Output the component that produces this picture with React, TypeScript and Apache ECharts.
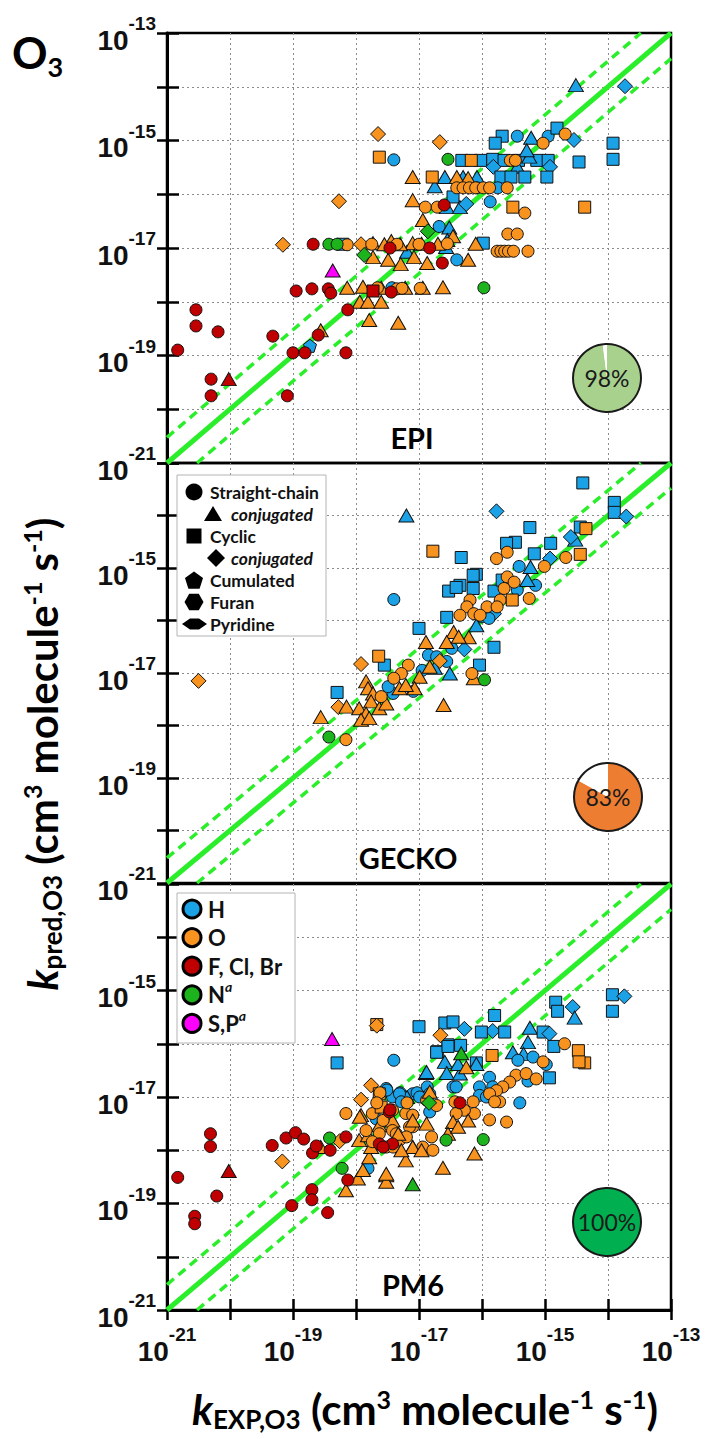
import React, { useEffect, useRef } from "react";
import * as echarts from "echarts";

// shape codes
const C = 0, T = 1, S = 2, D = 3, P = 4;

const AXIS_MIN = -21;
const AXIS_MAX = -13;
const bandFactor = 3;

const panelNames = ["EPI", "GECKO", "PM6"];
const pieShares = [98, 83, 100];
const pieColors = ["#a9d18e", "#ed7d31", "#00b050"];

const elementNames = ["H", "O", "F, Cl, Br", "N", "S,P"];
const elementColors = ["#1ba1e6", "#f7931e", "#c00000", "#1db31d", "#ff00ff"];
const shapeNames = ["Straight-chain", "conjugated", "Cyclic", "conjugated", "Cumulated", "Furan", "Pyridine"];

// ---- EPI (log10 kEXP, log10 kpred, shape) ----
const epiH = [
  [-18.73, -18.82, P], [-18.21, -16.93, S], [-17.4, -15.36, C], [-17.19, -17.07, T], [-17.43, -17.74, C],
  [-16.57, -16.98, T], [-16.4, -17.22, C], [-14.51, -13.97, T], [-13.73, -13.99, D], [-15.68, -14.92, S],
  [-15.79, -15.05, S], [-15.44, -14.92, C], [-15.22, -14.95, T], [-14.95, -14.92, C], [-14.81, -14.77, S],
  [-14.54, -14.99, D], [-13.92, -15.05, S], [-13.92, -15.35, S], [-14.46, -15.4, S], [-16.32, -15.37, S],
  [-16.02, -15.37, S], [-15.83, -15.35, S], [-15.65, -15.37, S], [-15.42, -15.37, S], [-15.13, -15.37, S],
  [-14.95, -15.37, S], [-15.25, -15.3, T], [-15.82, -15.49, D], [-14.92, -15.49, D], [-15.29, -15.18, T],
  [-15.44, -15.49, T], [-15.7, -15.68, S], [-15.54, -15.68, S], [-15.32, -15.68, S], [-14.97, -15.68, S],
  [-16.59, -15.68, T], [-16.08, -15.68, T], [-16.75, -15.85, T], [-16.3, -15.68, T], [-16.08, -15.88, C],
  [-15.75, -15.88, C], [-16.46, -16.05, S], [-15.87, -16.14, C], [-16.56, -16.24, T], [-16.35, -16.24, T],
  [-16.25, -16.18, D], [-16.68, -16.6, C], [-16.52, -16.62, T], [-15.98, -16.91, S], [-16.55, -16.85, T],
];
const epiO = [
  [-19.16, -16.94, D], [-18.27, -16.13, D], [-17.65, -14.88, D], [-16.67, -15.03, D], [-17.92, -16.93, D],
  [-17.63, -15.31, S], [-16.79, -15.68, S], [-15.51, -16.24, S], [-14.37, -16.24, S], [-16.17, -15.37, S],
  [-18.56, -18.53, T], [-18.14, -17.74, T], [-17.89, -17.72, T], [-17.6, -17.74, T], [-17.22, -17.74, T],
  [-16.94, -17.74, T], [-16.62, -17.73, T], [-17.94, -18.0, T], [-17.81, -18.0, T], [-17.6, -18.0, T],
  [-17.79, -18.34, T], [-17.33, -18.39, T], [-17.73, -16.91, T], [-17.44, -16.87, T], [-17.1, -16.91, T],
  [-17.3, -16.93, T], [-17.55, -16.93, T], [-16.96, -16.92, T], [-16.7, -16.92, T], [-16.1, -16.92, T],
  [-17.73, -17.17, T], [-17.49, -17.22, T], [-17.29, -17.3, T], [-17.08, -17.17, T], [-16.87, -17.28, T],
  [-16.22, -17.22, T], [-16.46, -16.78, T], [-16.94, -16.48, T], [-17.1, -16.11, T], [-17.1, -15.68, T],
  [-16.4, -15.68, T], [-16.22, -15.7, T],
  [-18.14, -16.94, C], [-17.75, -16.93, C], [-17.35, -16.93, C], [-17.0, -16.93, C], [-16.55, -16.92, C],
  [-17.66, -17.74, C], [-17.35, -17.76, C], [-17.27, -17.75, C], [-16.98, -17.75, C], [-16.4, -15.88, C],
  [-16.3, -15.88, C], [-16.2, -15.88, C], [-16.1, -15.88, C], [-15.98, -15.88, C], [-15.88, -15.88, C],
  [-15.6, -15.88, C], [-16.9, -16.24, C], [-16.71, -16.24, C], [-15.32, -16.35, C], [-15.59, -16.74, C],
  [-15.44, -16.74, C], [-15.76, -17.06, C], [-15.7, -17.06, C], [-15.64, -17.06, C], [-15.58, -17.06, C],
  [-15.5, -17.06, C], [-15.27, -17.06, C], [-14.68, -14.88, C], [-15.03, -15.05, C], [-15.55, -15.37, C],
  [-15.47, -15.37, C],
];
const epiHal = [
  [-20.83, -18.9, C], [-20.54, -18.15, C], [-20.54, -18.45, C], [-20.19, -18.56, C], [-20.3, -19.44, C],
  [-20.3, -19.75, C], [-20.02, -19.44, T], [-19.32, -18.64, C], [-19.09, -19.75, C], [-19.0, -18.95, C],
  [-18.81, -18.95, C], [-18.16, -18.95, C], [-18.95, -17.8, C], [-18.7, -17.76, C], [-18.44, -17.76, C],
  [-18.4, -17.84, C], [-18.68, -16.93, C], [-18.13, -18.15, C], [-18.6, -18.62, C], [-17.73, -17.8, S],
  [-16.63, -17.28, C], [-16.6, -16.2, C], [-17.46, -17.0, C], [-16.83, -17.0, C], [-17.44, -17.82, C],
];
const epiN = [
  [-18.43, -16.93, C], [-18.3, -16.93, C], [-17.87, -17.13, D], [-16.54, -15.35, C], [-15.97, -17.74, C],
  [-16.86, -16.69, D],
];
const epiSP = [[-18.37, -17.42, T]];

// ---- GECKO ----
const geckoH = [
  [-17.2, -14.0, T], [-15.77, -13.92, D], [-14.4, -13.38, S], [-13.9, -13.75, S], [-13.9, -13.94, S],
  [-13.71, -14.02, D], [-14.44, -14.22, S], [-14.52, -14.46, T], [-14.59, -14.41, D], [-15.24, -14.23, S],
  [-14.91, -14.53, S], [-15.47, -14.51, S], [-15.61, -14.53, S], [-16.33, -14.8, S], [-15.17, -14.73, S],
  [-14.92, -14.82, D], [-15.23, -14.98, T], [-15.41, -14.97, C], [-16.09, -15.12, S], [-16.14, -15.14, S],
  [-16.35, -15.33, S], [-16.14, -15.39, S], [-16.53, -15.44, S], [-16.41, -15.37, S], [-15.81, -15.44, S],
  [-15.68, -15.23, S], [-15.15, -15.33, C], [-15.44, -15.42, C], [-15.28, -15.23, T], [-15.81, -15.87, D],
  [-16.0, -15.93, C], [-15.89, -15.96, C], [-16.09, -16.09, T], [-16.56, -15.94, S], [-17.0, -16.15, S],
  [-16.28, -16.55, D], [-16.48, -16.53, C], [-16.85, -16.66, C], [-16.56, -16.78, C], [-16.72, -16.69, C],
  [-15.81, -16.51, S], [-16.04, -16.85, S], [-17.55, -16.85, S], [-17.09, -17.35, C], [-17.41, -17.39, C],
  [-17.49, -17.26, C], [-18.3, -17.37, S], [-16.51, -17.01, T], [-17.4, -15.6, C], [-16.95, -16.95, C],
  [-16.75, -16.9, T],
];
const geckoO = [
  [-16.78, -14.68, S], [-14.35, -14.25, S], [-14.44, -14.74, S], [-14.67, -14.8, C], [-15.77, -14.82, C],
  [-15.6, -14.7, C], [-15.01, -14.97, C], [-15.6, -15.17, C], [-15.49, -15.27, C], [-15.65, -15.39, C],
  [-15.71, -15.61, C], [-15.92, -15.74, C], [-16.19, -15.61, C], [-16.24, -15.74, C], [-16.13, -15.87, C],
  [-16.35, -15.9, C], [-16.03, -15.9, C], [-15.76, -15.74, C], [-15.25, -15.58, C], [-15.52, -15.61, S],
  [-16.89, -16.41, T], [-16.45, -16.22, T], [-16.56, -16.41, T], [-16.21, -16.32, T], [-16.37, -16.31, T],
  [-16.83, -16.88, T], [-16.99, -17.07, T], [-17.07, -17.29, T], [-17.31, -17.29, T], [-17.21, -17.23, T],
  [-17.92, -16.83, D], [-17.64, -16.68, S], [-17.17, -16.85, C], [-17.28, -17.01, C], [-16.13, -17.1, T],
  [-16.16, -17.01, C], [-16.61, -17.61, T], [-18.28, -17.65, D], [-18.15, -17.64, T], [-17.84, -17.16, T],
  [-17.81, -17.29, T], [-17.73, -17.39, T], [-17.76, -17.54, T], [-17.95, -17.67, T], [-17.84, -17.77, T],
  [-17.92, -17.89, T], [-17.79, -17.86, T], [-17.63, -17.67, T], [-17.52, -17.58, T], [-18.56, -17.84, T],
  [-18.16, -18.27, C], [-16.67, -16.77, D], [-20.5, -17.15, D], [-17.4, -17.1, C], [-17.6, -17.45, C],
];
const geckoHal: number[][] = [];
const geckoN = [[-18.43, -18.22, C], [-15.96, -17.13, C]];
const geckoSP: number[][] = [];

// ---- PM6 ----
const pm6H = [
  [-18.3, -16.36, S], [-17.4, -16.31, C], [-17.52, -16.84, C], [-17.42, -17.0, C], [-17.29, -16.97, C],
  [-17.68, -17.41, C], [-17.81, -18.34, C], [-17.1, -16.94, C], [-16.59, -15.61, S], [-16.46, -15.59, S],
  [-16.54, -16.02, S], [-16.71, -16.15, S], [-16.59, -16.34, T], [-16.89, -16.55, T], [-16.56, -16.55, T],
  [-17.0, -15.68, S], [-17.51, -16.87, C], [-17.3, -16.92, C], [-17.03, -16.92, C], [-16.87, -16.81, C],
  [-16.46, -16.81, C], [-17.19, -17.0, T], [-13.93, -15.08, S], [-13.93, -15.39, S], [-13.74, -15.11, D],
  [-14.83, -15.22, S], [-14.8, -15.39, S], [-14.56, -15.31, D], [-14.53, -15.51, T], [-15.8, -15.47, S],
  [-16.28, -15.72, D], [-15.83, -15.76, D], [-16.01, -15.78, S], [-15.64, -15.78, S], [-15.24, -15.7, T],
  [-15.27, -15.97, T], [-15.03, -15.78, S], [-14.93, -15.81, D], [-14.86, -16.05, S], [-16.72, -16.16, S],
  [-16.54, -16.05, S], [-16.34, -16.03, S], [-16.09, -16.36, S], [-15.51, -16.16, T], [-15.34, -16.19, T],
  [-15.43, -16.31, C], [-15.19, -16.25, C], [-14.98, -16.39, C], [-15.27, -16.7, C], [-15.4, -17.11, C],
  [-14.93, -16.64, S], [-16.88, -16.53, T], [-16.35, -16.56, T], [-16.38, -16.38, T], [-16.09, -16.38, T],
  [-15.88, -16.63, C], [-16.04, -16.81, C], [-16.04, -16.97, C], [-16.41, -16.81, C], [-16.83, -16.94, C],
  [-16.99, -17.0, C], [-17.31, -16.94, C], [-17.28, -17.09, C], [-16.83, -17.28, C], [-15.93, -17.0, C],
  [-15.83, -16.81, C],
];
const pm6O = [
  [-17.67, -15.64, S], [-17.67, -15.66, D], [-17.76, -16.78, D], [-17.92, -17.05, D], [-18.16, -17.31, C],
  [-18.26, -17.83, D], [-19.17, -18.21, D], [-18.56, -17.94, T], [-18.16, -18.75, T], [-17.97, -18.53, T],
  [-17.89, -18.37, T], [-17.79, -18.13, T], [-17.76, -17.94, T], [-17.95, -17.81, T], [-17.81, -17.72, T],
  [-17.52, -18.47, T], [-17.52, -18.59, T], [-17.21, -18.19, T], [-17.1, -17.94, T], [-17.92, -17.34, T],
  [-17.63, -17.53, T], [-17.42, -17.44, T], [-17.63, -17.19, C], [-17.74, -17.31, C], [-17.42, -17.25, C],
  [-17.84, -17.63, C], [-17.63, -17.69, C], [-17.42, -17.63, C], [-17.21, -17.31, C], [-17.1, -17.56, C],
  [-17.31, -17.81, C], [-17.52, -17.94, C], [-17.74, -17.84, C], [-17.63, -16.94, S], [-17.6, -17.19, S],
  [-17.62, -16.92, C], [-17.67, -17.11, C], [-17.19, -17.11, C], [-17.94, -17.37, T], [-16.66, -15.84, D],
  [-14.47, -16.13, S], [-14.37, -16.36, S], [-14.46, -16.34, S], [-14.69, -16.0, C], [-15.84, -16.22, S],
  [-15.03, -16.34, C], [-15.46, -16.59, C], [-15.56, -16.72, C], [-15.67, -16.81, C], [-15.77, -16.88, C],
  [-15.88, -16.94, C], [-15.72, -17.09, C], [-15.8, -17.09, C], [-15.88, -17.43, C], [-15.61, -17.47, C],
  [-16.14, -17.09, C], [-16.12, -17.31, C], [-16.43, -17.09, C], [-16.28, -17.25, C], [-16.41, -17.31, C],
  [-16.72, -17.16, C], [-16.88, -17.06, C], [-17.1, -17.34, C], [-17.15, -17.56, C], [-17.36, -17.69, C],
  [-17.57, -17.44, C], [-16.8, -17.75, C], [-16.94, -17.94, C], [-16.78, -18.0, C], [-17.2, -17.75, C],
  [-17.41, -17.94, C], [-15.3, -16.56, C], [-15.14, -16.66, C], [-16.46, -17.47, T], [-16.22, -17.44, T],
  [-16.54, -17.69, T], [-16.88, -17.5, T], [-17.1, -17.44, T], [-17.33, -17.69, T], [-17.1, -17.94, T],
  [-16.96, -18.0, T], [-17.28, -18.0, T], [-17.52, -18.44, T], [-16.62, -18.33, T], [-16.12, -18.06, T],
  [-16.38, -17.56, T], [-16.25, -16.44, T], [-16.83, -16.9, T],
];
const pm6Hal = [
  [-20.31, -17.69, C], [-20.31, -17.93, C], [-20.83, -18.51, C], [-20.02, -18.39, T], [-20.21, -18.86, C],
  [-20.56, -19.24, C], [-20.56, -19.38, C], [-19.33, -17.91, C], [-19.11, -17.77, C], [-18.96, -17.67, C],
  [-18.83, -17.79, C], [-18.69, -18.05, C], [-18.63, -17.92, C], [-18.41, -18.0, C], [-18.16, -17.75, C],
  [-18.13, -18.56, C], [-18.7, -18.74, C], [-18.7, -18.93, C], [-19.02, -19.04, C], [-18.45, -19.17, C],
  [-17.47, -17.28, C], [-17.63, -17.88, C], [-17.42, -17.88, C], [-16.35, -17.11, C], [-17.46, -17.24, C],
  [-17.57, -17.94, C],
];
const pm6N = [
  [-18.42, -17.77, C], [-18.22, -18.34, C], [-17.1, -18.64, T], [-15.98, -17.8, C], [-16.57, -17.81, C],
  [-16.84, -17.11, D], [-16.33, -16.18, T],
];
const pm6SP = [[-18.38, -15.91, T]];

const panelData = [
  [epiH, epiO, epiHal, epiN, epiSP],
  [geckoH, geckoO, geckoHal, geckoN, geckoSP],
  [pm6H, pm6O, pm6Hal, pm6N, pm6SP],
];

// ---- layout ----
const GRID_LEFT = 167;
const GRID_W = 504;
const GRID_TOP = [33, 463, 884];
const GRID_H = [430, 420, 426];
const PIE_CENTERS = [[607, 378], [608, 797], [607, 1222]];
const PIE_R = 34;
const NAME_POS = [[412, 437], [408, 857], [413, 1284]];

const FONT_TXT = 'Lato, "Open Sans", "Noto Sans", sans-serif';
const FONT_NUM = '"Liberation Sans", Arial, sans-serif';

const SYMBOLS = [
  "circle",
  "triangle",
  "rect",
  "diamond",
  "path://M0,-10L9.51,-3.09L5.88,8.09L-5.88,8.09L-9.51,-3.09Z",
  "path://M-10,0L-5,-8.66L5,-8.66L10,0L5,8.66L-5,8.66Z",
  "path://M0,6L9,0L14,0L23,6L14,12L9,12Z",
];
const SIZES: any[] = [12, [15, 13], 12, [15, 15], 13, 13, [20, 11]];

const tickRich = {
  b: { fontFamily: FONT_NUM, fontSize: 28, fontWeight: "bold", color: "#111", lineHeight: 52, verticalAlign: "middle" },
  s: { fontFamily: FONT_NUM, fontSize: 19, fontWeight: "bold", color: "#111", lineHeight: 19, verticalAlign: "top" },
};

function tickFormatter(hideTop: boolean) {
  return (v: number) => {
    const n = Math.round(v);
    if (n % 2 === 0) return "";
    if (hideTop && n === AXIS_MAX) return "";
    return "{b|10}{s|" + n + "}";
  };
}

function regPoly(cx: number, cy: number, r: number, n: number, rot: number) {
  const pts: number[][] = [];
  for (let i = 0; i < n; i++) {
    const a = rot + (i * 2 * Math.PI) / n;
    pts.push([cx + r * Math.cos(a), cy + r * Math.sin(a)]);
  }
  return pts;
}

function buildOption() {
  const band = Math.log10(bandFactor);
  const grids = GRID_TOP.map((t, i) => ({
    left: GRID_LEFT, top: t, width: GRID_W, height: GRID_H[i],
    show: true, borderColor: "#000", borderWidth: 2.5, backgroundColor: "rgba(0,0,0,0)",
  }));
  const splitLine = { show: true, showMinLine: false, showMaxLine: false, lineStyle: { color: "#8c8c8c", type: [2, 3], width: 1 } };
  const tickStyle = { color: "#000", width: 2.5 };

  const xAxis: any[] = [];
  const yAxis: any[] = [];
  for (let p = 0; p < 3; p++) {
    xAxis.push({
      type: "value", gridIndex: p, min: AXIS_MIN, max: AXIS_MAX, interval: 1, position: "bottom",
      axisLine: { show: false },
      axisTick: { show: p === 2, inside: true, length: 11, lineStyle: tickStyle },
      axisLabel: { show: false }, splitLine,
    });
    yAxis.push({
      type: "value", gridIndex: p, min: AXIS_MIN, max: AXIS_MAX, interval: 1, position: "left",
      axisLine: { show: false },
      axisTick: { show: true, inside: true, length: 12, lineStyle: tickStyle },
      axisLabel: { show: false }, splitLine,
    });
  }
  xAxis.push({
    type: "value", gridIndex: 2, min: AXIS_MIN, max: AXIS_MAX, interval: 1, position: "bottom",
    axisLine: { show: true, lineStyle: { color: "#000", width: 3 } },
    axisTick: { show: true, inside: false, length: 10, lineStyle: tickStyle },
    axisLabel: { show: true, margin: 15, formatter: tickFormatter(false), rich: tickRich, showMinLabel: true, showMaxLabel: true },
    splitLine: { show: false },
  });
  for (let p = 0; p < 3; p++) {
    yAxis.push({
      type: "value", gridIndex: p, min: AXIS_MIN, max: AXIS_MAX, interval: 1, position: "left",
      axisLine: { show: true, lineStyle: { color: "#000", width: 3 } },
      axisTick: { show: true, inside: false, length: 10, lineStyle: tickStyle },
      axisLabel: {
        show: true, margin: 11, padding: [14, 0, 0, 0], formatter: tickFormatter(p > 0), rich: tickRich,
        showMinLabel: true, showMaxLabel: true,
      },
      splitLine: { show: false },
    });
  }

  const series: any[] = [];
  for (let p = 0; p < 3; p++) {
    const lineBase = { type: "line", xAxisIndex: p, yAxisIndex: p, symbol: "none", silent: true, clip: true, z: 1 };
    series.push({ ...lineBase, data: [[AXIS_MIN, AXIS_MIN], [AXIS_MAX, AXIS_MAX]], lineStyle: { color: "#2bee2b", width: 5 } });
    series.push({ ...lineBase, data: [[AXIS_MIN, AXIS_MIN + band], [AXIS_MAX - band, AXIS_MAX]], lineStyle: { color: "#2bee2b", width: 3.5, type: [9, 6] } });
    series.push({ ...lineBase, data: [[AXIS_MIN + band, AXIS_MIN], [AXIS_MAX, AXIS_MAX - band]], lineStyle: { color: "#2bee2b", width: 3.5, type: [9, 6] } });
    [0, 1, 2, 3, 4].forEach((g) => {
      series.push({
        type: "scatter", name: elementNames[g], xAxisIndex: p, yAxisIndex: p, silent: true, z: 3,
        data: panelData[p][g],
        symbol: (v: number[]) => SYMBOLS[v[2]],
        symbolSize: (v: number[]) => SIZES[v[2]],
        itemStyle: { color: elementColors[g], borderColor: "#111", borderWidth: 1, opacity: 1 },
      });
    });
    series.push({
      type: "pie", center: PIE_CENTERS[p], radius: PIE_R, startAngle: 90, clockwise: true, silent: true, z: 5,
      labelLine: { show: false },
      label: { show: true, position: "center", formatter: "{c}%", fontFamily: FONT_TXT, fontSize: 23, color: "#1a1a1a" },
      emphasis: { disabled: true },
      data: [
        { value: pieShares[p], name: panelNames[p], itemStyle: { color: pieColors[p] } },
        { value: 100 - pieShares[p], name: "rest", itemStyle: { color: "#ffffff" }, label: { show: false } },
      ],
    });
  }

  // ---- graphics ----
  const g: any[] = [];
  const Z = 100;
  PIE_CENTERS.forEach((c) => g.push({ type: "circle", z: Z, shape: { cx: c[0], cy: c[1], r: PIE_R }, style: { fill: "none", stroke: "#1a1a1a", lineWidth: 2 } }));
  panelNames.forEach((n, i) => g.push({
    type: "text", z: Z, x: NAME_POS[i][0], y: NAME_POS[i][1],
    style: { text: n, align: "center", verticalAlign: "middle", fontFamily: FONT_TXT, fontWeight: "bold", fontSize: 29, fill: "#000" },
  }));
  g.push({
    type: "text", z: Z, x: 12, y: 52,
    style: {
      text: "{o|O}{s|3}", align: "left", verticalAlign: "middle",
      rich: {
        o: { fontFamily: FONT_TXT, fontWeight: "bold", fontSize: 44, lineHeight: 56, fill: "#000", verticalAlign: "middle" },
        s: { fontFamily: FONT_TXT, fontWeight: "bold", fontSize: 27, lineHeight: 27, fill: "#000", verticalAlign: "bottom" },
      },
    },
  });
  const titleRich = {
    m: { fontFamily: FONT_TXT, fontWeight: "bold", fontSize: 42, lineHeight: 46, fill: "#000", verticalAlign: "middle" },
    k: { fontFamily: FONT_TXT, fontWeight: "bold", fontStyle: "italic", fontSize: 42, lineHeight: 46, fill: "#000", verticalAlign: "middle" },
    sub: { fontFamily: FONT_TXT, fontWeight: "bold", fontSize: 26, lineHeight: 26, fill: "#000", verticalAlign: "bottom" },
    sup: { fontFamily: FONT_TXT, fontWeight: "bold", fontSize: 25, lineHeight: 25, fill: "#000", verticalAlign: "top" },
  };
  g.push({
    type: "text", z: Z, x: 425, y: 1409,
    style: { text: "{k|k}{sub|EXP,O3}{m| (cm}{sup|3}{m| molecule}{sup|-1}{m| s}{sup|-1}{m|)}", align: "center", verticalAlign: "middle", rich: titleRich },
  });
  g.push({
    type: "text", z: Z, x: 42, y: 754, rotation: Math.PI / 2,
    style: { text: "{k|k}{sub|pred,O3}{m| (cm}{sup|3}{m| molecule}{sup|-1}{m| s}{sup|-1}{m|)}", align: "center", verticalAlign: "middle", rich: titleRich },
  });

  // shape legend (middle panel)
  g.push({ type: "rect", z: Z, shape: { x: 177, y: 475, width: 149, height: 161 }, style: { fill: "#fff", stroke: "#b4b4b4", lineWidth: 1 } });
  const rowY = (i: number) => 492 + i * 22;
  const blk = { fill: "#000" };
  g.push({ type: "circle", z: Z, shape: { cx: 194, cy: rowY(0), r: 8.5 }, style: blk });
  g.push({ type: "polygon", z: Z, shape: { points: [[204, rowY(1) + 7], [213, rowY(1) - 8], [222, rowY(1) + 7]] }, style: blk });
  g.push({ type: "rect", z: Z, shape: { x: 186.5, y: rowY(2) - 7.5, width: 15, height: 15 }, style: blk });
  g.push({ type: "polygon", z: Z, shape: { points: regPoly(216, rowY(3), 9, 4, -Math.PI / 2) }, style: blk });
  g.push({ type: "polygon", z: Z, shape: { points: regPoly(194, rowY(4) + 1, 9.5, 5, -Math.PI / 2) }, style: blk });
  g.push({ type: "polygon", z: Z, shape: { points: regPoly(194, rowY(5), 9.5, 6, 0) }, style: blk });
  g.push({ type: "polygon", z: Z, shape: { points: [[182, rowY(6)], [190, rowY(6) - 5.5], [199, rowY(6) - 5.5], [207, rowY(6)], [199, rowY(6) + 5.5], [190, rowY(6) + 5.5]] }, style: blk });
  shapeNames.forEach((n, i) => {
    const indented = i === 1 || i === 3;
    g.push({
      type: "text", z: Z, x: indented ? 231 : 210, y: rowY(i),
      style: { text: n, align: "left", verticalAlign: "middle", fontFamily: FONT_TXT, fontWeight: "bold", fontStyle: indented ? "italic" : "normal", fontSize: 17.5, fill: "#111" },
    });
  });

  // element legend (bottom panel)
  g.push({ type: "rect", z: Z, shape: { x: 177, y: 893, width: 118, height: 150 }, style: { fill: "#fff", stroke: "#b4b4b4", lineWidth: 1 } });
  const legRich = {
    t: { fontFamily: FONT_TXT, fontWeight: "bold", fontSize: 22, lineHeight: 30, fill: "#111", verticalAlign: "middle" },
    a: { fontFamily: FONT_TXT, fontWeight: "bold", fontStyle: "italic", fontSize: 14, lineHeight: 14, fill: "#111", verticalAlign: "top" },
  };
  const legTexts = ["{t|H}", "{t|O}", "{t|F, Cl, Br}", "{t|N}{a|a}", "{t|S,P}{a|a}"];
  elementNames.forEach((n, i) => {
    const cy = 909 + i * 28.6;
    g.push({ type: "circle", z: Z, shape: { cx: 192, cy, r: 9 }, style: { fill: elementColors[i], stroke: "#000", lineWidth: 3 } });
    g.push({ type: "text", z: Z, x: 208, y: cy, style: { text: legTexts[i], align: "left", verticalAlign: "middle", rich: legRich } });
  });

  return {
    animation: false,
    backgroundColor: "#fff",
    textStyle: { fontFamily: FONT_TXT },
    grid: grids,
    xAxis,
    yAxis,
    series,
    graphic: { elements: g },
  };
}

export default function App() {
  const ref = useRef<HTMLDivElement>(null);
  useEffect(() => {
    if (!ref.current) return;
    const chart = echarts.init(ref.current, null, { renderer: "svg" });
    chart.setOption(buildOption() as any);
    return () => chart.dispose();
  }, []);
  return <div ref={ref} style={{ position: "absolute", left: 0, top: 0, width: 706, height: 1439, background: "#fff" }} />;
}
